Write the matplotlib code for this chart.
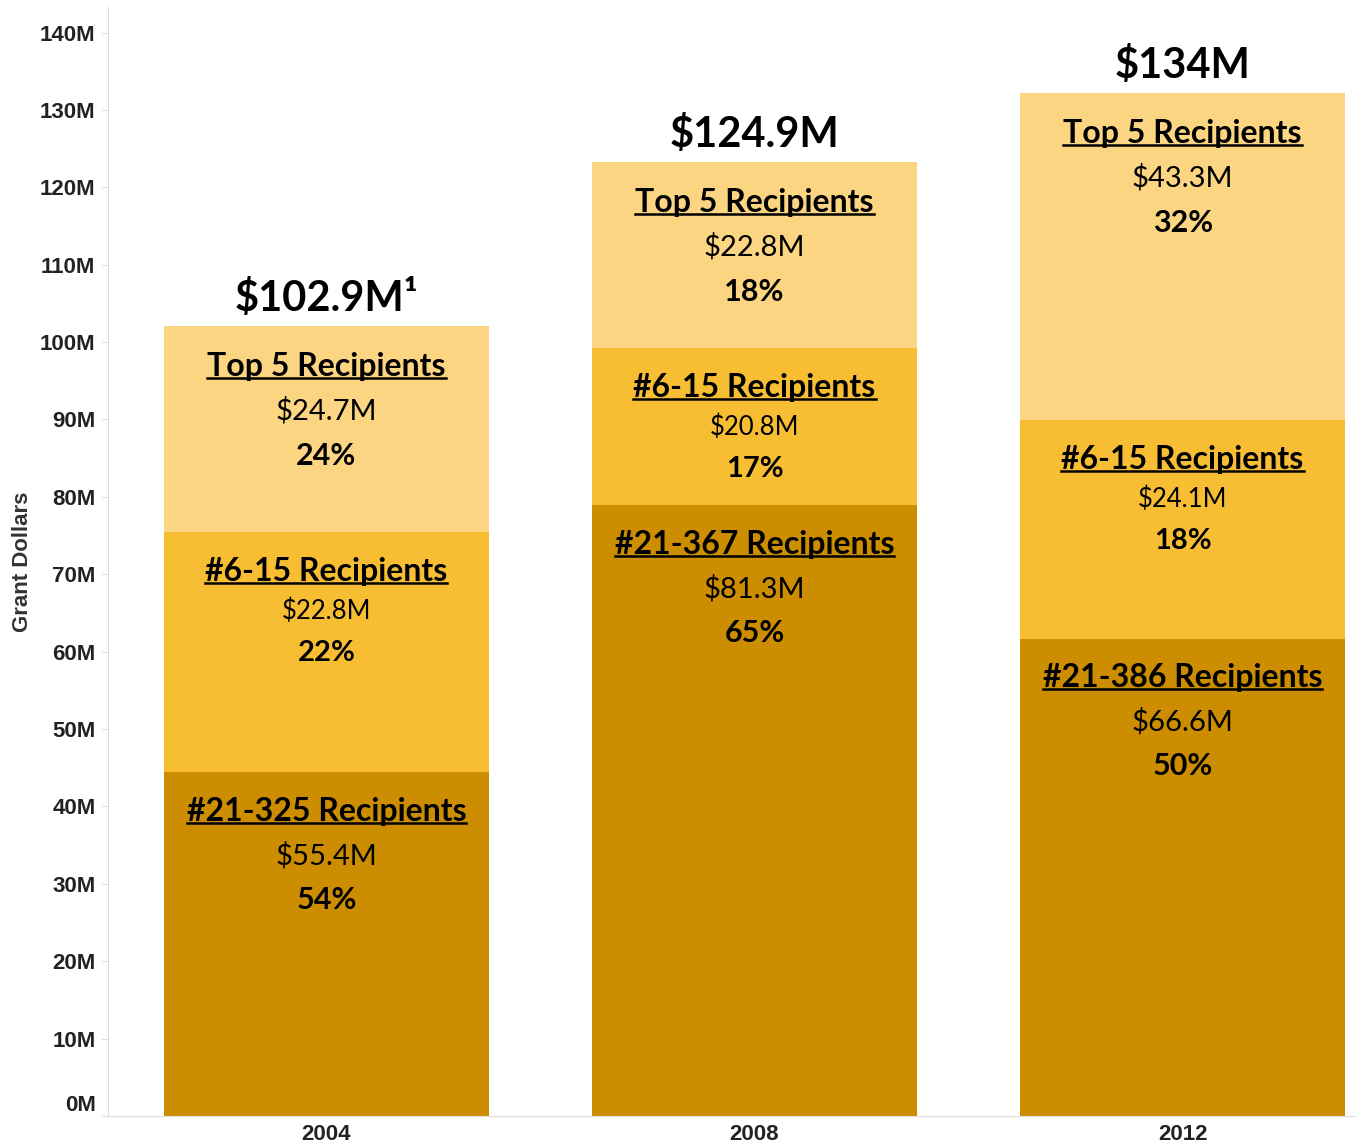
import matplotlib
matplotlib.use('Agg')
import matplotlib.pyplot as plt
from matplotlib.lines import Line2D
import numpy as np

years = ['2004', '2008', '2012']
# drawn heights of the stacked segments (in $M)
bottom_vals = [44.4, 78.9, 61.7]
middle_vals = [31.0, 20.3, 28.2]
top_vals = [26.7, 24.1, 42.3]

totals = ['\\$102.9M\u00b9', '\\$124.9M', '\\$134M']
bottom_names = ['#21-325 Recipients', '#21-367 Recipients', '#21-386 Recipients']
bottom_amounts = ['\\$55.4M', '\\$81.3M', '\\$66.6M']
bottom_pcts = ['54%', '65%', '50%']
middle_names = ['#6-15 Recipients', '#6-15 Recipients', '#6-15 Recipients']
middle_amounts = ['\\$22.8M', '\\$20.8M', '\\$24.1M']
middle_pcts = ['22%', '17%', '18%']
top_names = ['Top 5 Recipients', 'Top 5 Recipients', 'Top 5 Recipients']
top_amounts = ['\\$24.7M', '\\$22.8M', '\\$43.3M']
top_pcts = ['24%', '18%', '32%']

colors = {
    'top': '#FCD582',
    'middle': '#F8BE33',
    'bottom': '#CC8E00',
}

fig = plt.figure(figsize=(13.56, 11.46), dpi=100)
ax = fig.add_axes([108 / 1356, 1 - 1116 / 1146, 1 - 108 / 1356, (1116 - 7) / 1146])

x = np.arange(len(years))
bw = 0.76
bottom = np.array(bottom_vals)
middle = np.array(middle_vals)
top = np.array(top_vals)

ax.bar(x, bottom, bw, color=colors['bottom'])
ax.bar(x, middle, bw, bottom=bottom, color=colors['middle'])
ax.bar(x, top, bw, bottom=bottom + middle, color=colors['top'])

ax.set_xlim(-0.51, 2.405)
ax.set_ylim(0, 143.3)
ax.set_yticks(range(0, 141, 10))
ax.set_yticklabels([f'{v}M' for v in range(0, 141, 10)],
                   fontsize=16, fontweight='bold', family='Liberation Sans', color='#222222')
ax.get_yticklabels()[0].set_va('bottom')
ax.set_xticks(x)
ax.set_xticklabels(years, fontsize=16, fontweight='bold', family='Liberation Sans', color='#222222')
ax.tick_params(axis='y', length=5, color='#dddddd', pad=4)
ax.tick_params(axis='x', length=0, pad=6)
for s in ['top', 'right']:
    ax.spines[s].set_visible(False)
ax.spines['left'].set_color('#dddddd')
ax.spines['bottom'].set_color('#dddddd')
ax.set_ylabel('Grant Dollars', fontsize=16, fontweight='bold', family='Liberation Sans',
              color='#333333', labelpad=5)

font = 'Lato'
underline_texts = []


def segment_labels(xc, seg_top, name, amount, pct, amt_size, pct_size, gaps):
    t = ax.annotate(name, xy=(xc, seg_top), xytext=(0, -gaps[0]), textcoords='offset points',
                    ha='center', va='center', fontsize=23, fontweight='bold', family=font)
    ax.annotate(amount, xy=(xc, seg_top), xytext=(0, -gaps[1]), textcoords='offset points',
                ha='center', va='center', fontsize=amt_size, family=font)
    ax.annotate(pct, xy=(xc, seg_top), xytext=(0, -gaps[2]), textcoords='offset points',
                ha='center', va='center', fontsize=pct_size, fontweight='bold', family=font)
    underline_texts.append(t)


for i in range(len(years)):
    b_top = bottom[i]
    m_top = bottom[i] + middle[i]
    t_top = m_top + top[i]
    segment_labels(x[i], t_top, top_names[i], top_amounts[i], top_pcts[i], 21, 22, (29, 61, 94))
    segment_labels(x[i], m_top, middle_names[i], middle_amounts[i], middle_pcts[i], 18.5, 21, (28, 57, 87))
    segment_labels(x[i], b_top, bottom_names[i], bottom_amounts[i], bottom_pcts[i], 21, 22, (28, 60, 92))
    ax.annotate(totals[i], xy=(x[i], t_top), xytext=(0, 11), textcoords='offset points',
                ha='center', va='baseline', fontsize=30, fontweight='bold', family=font)

# underline the group names
fig.canvas.draw()
renderer = fig.canvas.get_renderer()
inv = fig.transFigure.inverted()
for t in underline_texts:
    bb = t.get_window_extent(renderer)
    y = bb.y0 + 3
    (x0, y0), (x1, y1) = inv.transform([(bb.x0, y), (bb.x1, y)])
    fig.add_artist(Line2D([x0, x1], [y0, y1], color='black', lw=1.8))

plt.savefig('out.png', dpi=100)
